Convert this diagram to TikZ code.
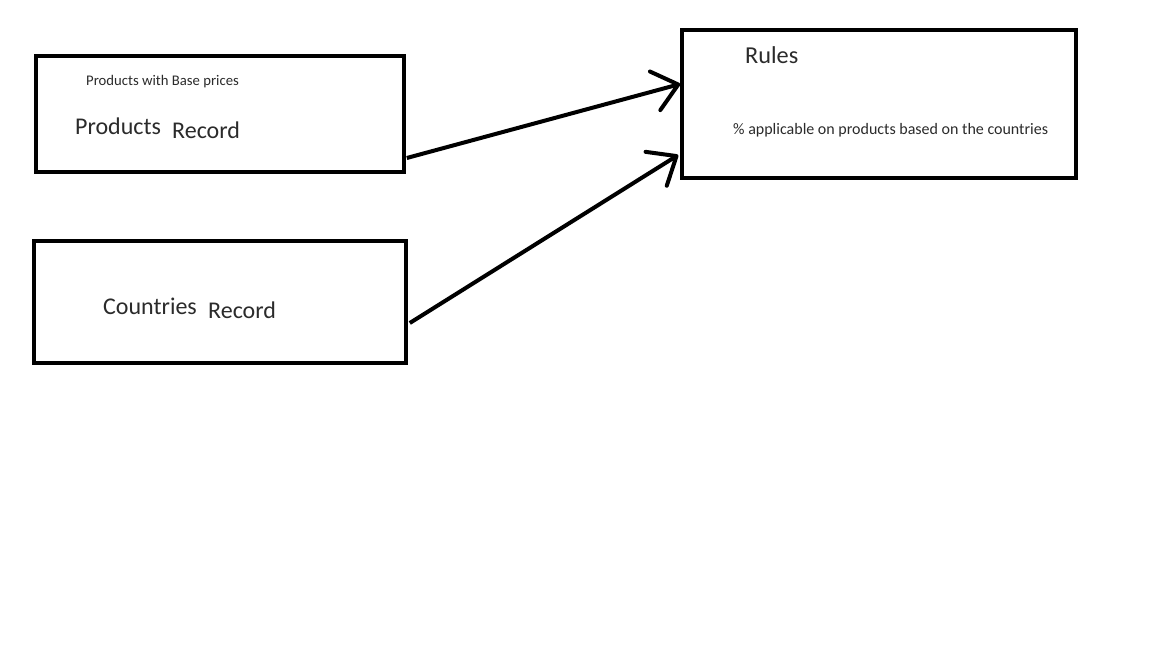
\documentclass[tikz,border=0pt]{standalone}
\usepackage{fontspec}
\setmainfont{Carlito}
\usetikzlibrary{arrows.meta,calc}
\definecolor{txt}{HTML}{2B2B2B}
\tikzset{
  box/.style={draw=black, line width=3.6pt, minimum width=#1, inner sep=0pt},
  lbl/.style={text=txt, anchor=west, inner sep=0pt},
  big/.style={font=\fontsize{24}{28}\selectfont},
  conn/.style={line width=4pt, -{Straight Barb[length=24pt,width=40pt,line width=4pt,round]}}
}
\begin{document}
\begin{tikzpicture}[x=1pt,y=-1pt]
\useasboundingbox[fill=white] (0,0) rectangle (1152,648);
% boxes
\node[box=368pt, minimum height=116pt] (prod) at (220,114) {};
\node[box=372pt, minimum height=122pt] (ctry) at (220,302) {};
\node[box=394pt, minimum height=148pt] (rules) at (879,104) {};
% texts
\node[lbl, font=\fontsize{14.7}{17}\selectfont] (pwb) at (86,82) {Products with Base prices};
\node[lbl, big] (p1) at (75,126) {Products};
\node[lbl, big] (p2) at (172,130) {Record};
\node[lbl, big] (c1) at (103,306) {Countries};
\node[lbl, big] (c2) at (208,310) {Record};
\node[lbl, font=\fontsize{24.3}{28}\selectfont] (rt) at (745,55) {Rules};
\node[lbl, font=\fontsize{16}{19}\selectfont] (rd) at (733,130) {\% applicable on products based on the countries};
% connectors
\coordinate (s1) at ($(prod.east)+(1,44)$);
\coordinate (e1) at ($(rules.west)+(0,-20)$);
\coordinate (s2) at ($(ctry.east)+(2,21)$);
\coordinate (e2) at ($(rules.west)+(-2,51)$);
\draw[conn] (s1) -- (e1);
\draw[conn] (s2) -- (e2);
\end{tikzpicture}
\end{document}
